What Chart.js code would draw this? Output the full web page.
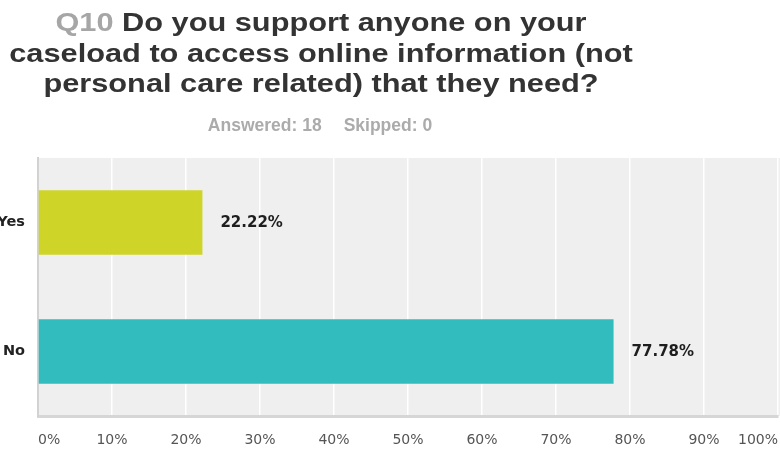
<!DOCTYPE html>
<html>
<head>
<meta charset="utf-8">
<script src="https://cdn.jsdelivr.net/npm/chart.js@4/dist/chart.umd.min.js"></script>
<style>
  html, body { margin: 0; padding: 0; background: #fff; overflow: hidden; }
  #wrap { position: relative; width: 780px; height: 450px; }
  #chart { position: absolute; left: 0; top: 0; }
  #title {
    position: absolute; left: 0; top: 7px; width: 642px;
    text-align: center; font-family: "Liberation Sans", Arial, sans-serif;
    font-weight: bold; font-size: 26.5px; line-height: 30.5px; color: #333;
    white-space: nowrap;
    transform: scaleX(1.16); transform-origin: 321px 0;
  }
  #title .q { color: #a6a6a6; }
  #meta {
    position: absolute; left: 0; top: 115px; width: 640px;
    text-align: center; font-family: "Liberation Sans", Arial, sans-serif;
    font-weight: bold; font-size: 17.5px; color: #ababab;
  }
  #meta span + span { margin-left: 22px; }
</style>
</head>
<body>
<div id="wrap">
  <canvas id="chart" width="780" height="450"></canvas>
  <div id="title"><span class="q">Q10</span> Do you support anyone on your<br>caseload to access online information (not<br>personal care related) that they need?</div>
  <div id="meta"><span>Answered: 18</span><span>Skipped: 0</span></div>
</div>
<script>
const categories = ['Yes', 'No'];
const percentValues = [22.22, 77.78];
const barColors = ['#cfd428', '#33bcbe'];
const xTickLabels = ['0%', '10%', '20%', '30%', '40%', '50%', '60%', '70%', '80%', '90%', '100%'];

// grey plot background
const plotBackground = {
    id: 'plotBackground',
    beforeDraw(chart) {
        const { ctx, chartArea } = chart;
        ctx.save();
        ctx.fillStyle = '#efefef';
        ctx.fillRect(chartArea.left, chartArea.top, chart.width - chartArea.left, chartArea.bottom - chartArea.top);
        ctx.restore();
    }
};

// value labels to the right of each bar
const barValueLabels = {
    id: 'barValueLabels',
    afterDatasetsDraw(chart) {
        const { ctx } = chart;
        const meta = chart.getDatasetMeta(0);
        ctx.save();
        ctx.font = 'bold 15px "DejaVu Sans", Verdana, sans-serif';
        ctx.fillStyle = '#1e1e1e';
        ctx.textAlign = 'left';
        ctx.textBaseline = 'middle';
        meta.data.forEach((bar, i) => {
            ctx.fillText(percentValues[i].toFixed(2) + '%', bar.x + 18, bar.y + 1);
        });
        ctx.restore();
    }
};

// x tick labels, first and last kept inside the plot
const xLabels = {
    id: 'xLabels',
    afterDraw(chart) {
        const { ctx } = chart;
        const scale = chart.scales.x;
        ctx.save();
        ctx.font = '14px "DejaVu Sans", Verdana, sans-serif';
        ctx.fillStyle = '#555';
        ctx.textAlign = 'left';
        ctx.textBaseline = 'middle';
        scale.ticks.forEach((tick, i) => {
            const text = xTickLabels[i];
            if (!text) return;
            const w = ctx.measureText(text).width;
            let x = scale.getPixelForTick(i) - w / 2;
            x = Math.max(x, scale.left);
            x = Math.min(x, scale.right - w);
            ctx.fillText(text, x, 440);
        });
        ctx.restore();
    }
};

new Chart(document.getElementById('chart'), {
    type: 'bar',
    data: {
        labels: categories,
        datasets: [{
            data: percentValues,
            backgroundColor: barColors,
            borderWidth: 0,
            barPercentage: 1,
            categoryPercentage: 0.5
        }]
    },
    options: {
        indexAxis: 'y',
        responsive: false,
        animation: false,
        devicePixelRatio: 1,
        layout: { padding: { top: 158, bottom: 34, left: 0, right: 2 } },
        plugins: {
            legend: { display: false },
            tooltip: { enabled: false }
        },
        scales: {
            x: {
                min: 0,
                max: 100,
                ticks: { stepSize: 10, display: false },
                grid: { color: '#ffffff', lineWidth: 1.5, drawTicks: false },
                border: { color: '#d6d6d6', width: 3 },
                afterFit(scale) { scale.paddingLeft = 0; scale.paddingRight = 0; }
            },
            y: {
                grid: { display: false, drawTicks: false },
                border: { color: '#d2d2d2', width: 2 },
                ticks: {
                    color: '#222',
                    padding: 13,
                    font: { family: '"DejaVu Sans", Verdana, sans-serif', size: 14.5, weight: 'bold' }
                },
                afterFit(scale) { scale.width = 38; }
            }
        }
    },
    plugins: [plotBackground, barValueLabels, xLabels]
});
</script>
</body>
</html>
